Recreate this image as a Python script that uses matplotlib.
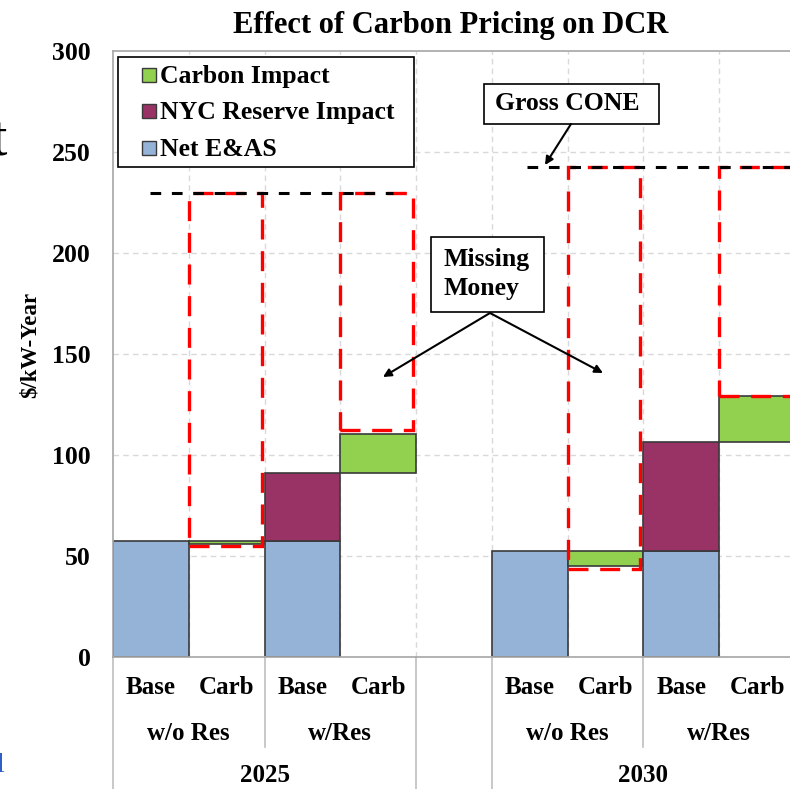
import matplotlib
matplotlib.use("Agg")
import matplotlib.pyplot as plt
from matplotlib.patches import Rectangle
import numpy as np

# ---------------- data ----------------
slot_cats = ["Base", "Carb", "Base", "Carb", "", "Base", "Carb", "Base", "Carb"]
net_eas = [57.6, 0, 57.6, 0, 0, 52.6, 0, 52.6, 0]
nyc_reserve = [0, 0, 33.6, 0, 0, 0, 0, 53.7, 0]
carbon_bottom = [0, 55.8, 0, 91.2, 0, 0, 45.0, 0, 106.3]
carbon_impact = [0, 1.8, 0, 19.2, 0, 0, 7.6, 0, 22.9]

missing_slots = [1, 3, 6, 8]
missing_bottom = [55.0, 112.4, 43.6, 129.2]
missing_top = [229.5, 229.5, 242.5, 242.5]

cone_values = [229.5, 242.5]
cone_start = [0.49, 5.46]
cone_end = [3.69, 9.0]

group_labels = ["w/o Res", "w/Res", "w/o Res", "w/Res"]
group_centers = [1.0, 3.0, 6.0, 8.0]
year_labels = ["2025", "2030"]
year_centers = [2.0, 7.0]
yticks = [0, 50, 100, 150, 200, 250, 300]
legend_labels = ["Carbon Impact", "NYC Reserve Impact", "Net E&AS"]

# ---------------- style ----------------
plt.rcParams['font.family'] = ['Liberation Serif', 'DejaVu Serif']
plt.rcParams['font.weight'] = 'bold'
c_blue = "#95B3D7"
c_maroon = "#993366"
c_green = "#92D050"
legend_colors = [c_green, c_maroon, c_blue]
edge = "#3a3a3a"
grid_c = "#d9d9d9"
spine_c = "#a6a6a6"

W, H = 790, 789
fig = plt.figure(figsize=(W / 100, H / 100), dpi=100)
ax = fig.add_axes([113 / W, 132 / H, 682 / W, 606 / H])
ax.set_xlim(0, 9)
ax.set_ylim(0, 300)


def fx(px):
    return (px - 113) / 682.0


def fy(py):
    return (657 - py) / 606.0


def px2d(px, py):
    return ((px - 113) / 75.78, (657 - py) / 2.02)


# grid
for x in range(1, 10):
    ax.axvline(x, color=grid_c, lw=1, ls=(0, (4, 3)), zorder=0)
for y in yticks[1:-1]:
    ax.axhline(y, color=grid_c, lw=1, ls=(0, (4, 3)), zorder=0)

x = np.arange(len(slot_cats))
for i in x:
    if net_eas[i] > 0:
        ax.bar(i, net_eas[i], width=1.0, align='edge', color=c_blue,
               edgecolor=edge, lw=1.2, zorder=2)
    if nyc_reserve[i] > 0:
        ax.bar(i, nyc_reserve[i], bottom=net_eas[i], width=1.0, align='edge',
               color=c_maroon, edgecolor=edge, lw=1.2, zorder=2)
    if carbon_impact[i] > 0:
        ax.bar(i, carbon_impact[i], bottom=carbon_bottom[i], width=1.0,
               align='edge', color=c_green, edgecolor=edge, lw=1.2, zorder=2)

# missing money boxes
for s, b, t in zip(missing_slots, missing_bottom, missing_top):
    ax.add_patch(Rectangle((s + 0.0, b), 0.96, t - b, fill=False,
                           edgecolor="#ff0000", lw=2.4,
                           ls=(0, (6, 3.5)), zorder=4))

# gross CONE lines
for v, a, b in zip(cone_values, cone_start, cone_end):
    ax.plot([a, b], [v, v], color="black", lw=2.2, ls=(0, (3.5, 3.5)),
            zorder=5)

# spines / ticks
for sp in ["left", "top", "bottom"]:
    ax.spines[sp].set_color(spine_c)
    ax.spines[sp].set_linewidth(1.2)
ax.spines["right"].set_visible(False)
ax.set_xticks([])
ax.set_yticks(yticks)
ax.set_yticklabels([str(v) for v in yticks], fontsize=18.5, fontweight='bold')
ax.tick_params(axis='y', length=0, pad=16)
ax.set_ylabel("$/kW-Year", fontsize=16.5, fontweight='bold')
ax.yaxis.set_label_coords(fx(41), fy(345))

fig.text(451 / W, 1 - 25 / H, "Effect of Carbon Pricing on DCR",
         fontsize=22, fontweight='bold', ha='center', va='center')

# category labels below
tr = ax.get_xaxis_transform()
for i, c in enumerate(slot_cats):
    if c:
        ax.text(i + 0.5, fy(688), c, transform=tr, ha='center',
                va='center', fontsize=18, fontweight='bold')
for c, g in zip(group_centers, group_labels):
    ax.text(c, fy(733), g, transform=tr, ha='center', va='center',
            fontsize=18, fontweight='bold')
for c, g in zip(year_centers, year_labels):
    ax.text(c, fy(775), g, transform=tr, ha='center', va='center',
            fontsize=18, fontweight='bold')

long_sep = [0, 4, 5]
short_sep = [2, 7]
for s in long_sep:
    ax.plot([s, s], [0, fy(789)], transform=tr, color="#bfbfbf",
            lw=1.2, clip_on=False)
for s in short_sep:
    ax.plot([s, s], [0, fy(747)], transform=tr, color="#bfbfbf",
            lw=1.2, clip_on=False)

# legend (drawn by hand to match the frame layout)
ax.add_patch(Rectangle((fx(118), fy(167)), fx(414) - fx(118),
                       fy(57) - fy(167), transform=ax.transAxes,
                       facecolor='white', edgecolor='black', lw=1.2,
                       zorder=10))
for lab, col, cy in zip(legend_labels, legend_colors, [75, 111, 148]):
    ax.add_patch(Rectangle((fx(142), fy(cy + 7)), fx(156) - fx(142),
                           fy(cy - 7) - fy(cy + 7), transform=ax.transAxes,
                           facecolor=col, edgecolor=edge, lw=1.0, zorder=11))
    ax.text(fx(160), fy(cy + 1), lab, transform=ax.transAxes, ha='left',
            va='center', fontsize=18.5, fontweight='bold', zorder=11)

# Gross CONE annotation
ax.add_patch(Rectangle((fx(484), fy(124)), fx(659) - fx(484),
                       fy(84) - fy(124), transform=ax.transAxes,
                       facecolor='white', edgecolor='black', lw=1.2,
                       zorder=8))
ax.text(fx(567), fy(104), "Gross CONE", transform=ax.transAxes,
        ha='center', va='center', fontsize=18.5, fontweight='bold',
        zorder=9)
ax.annotate("", xy=px2d(545, 165), xytext=px2d(571, 124),
            arrowprops=dict(arrowstyle='-|>', color='black', lw=1.5,
                            mutation_scale=12, shrinkA=0, shrinkB=0),
            zorder=8)

# Missing Money annotation
ax.add_patch(Rectangle((fx(431), fy(312)), fx(544) - fx(431),
                       fy(237) - fy(312), transform=ax.transAxes,
                       facecolor='white', edgecolor='black', lw=1.2,
                       zorder=8))
ax.text(fx(443), fy(274), "Missing\nMoney", transform=ax.transAxes,
        ha='left', va='center', fontsize=18.5, fontweight='bold', zorder=9,
        linespacing=1.3)
for end in [(383, 377), (603, 373)]:
    ax.annotate("", xy=px2d(*end), xytext=px2d(490, 313),
                arrowprops=dict(arrowstyle='-|>', color='black', lw=1.5,
                                mutation_scale=12, shrinkA=0, shrinkB=0),
                zorder=8)

# stray fragments visible at the left edge of the screenshot
fig.text(-0.011, 1 - 155 / H, "t", fontsize=40, fontweight='normal',
         color='black', ha='left', va='baseline')
fig.text(-0.004, 1 - 772 / H, "l", fontsize=20, fontweight='normal',
         color='#2e5fc9', ha='left', va='baseline')

fig.savefig("out.png", dpi=100)
